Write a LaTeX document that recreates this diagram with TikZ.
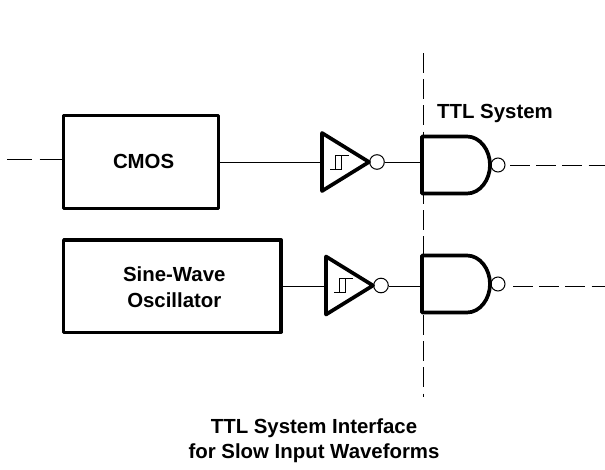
\documentclass[tikz,border=0pt]{standalone}
\usepackage{fontspec}
\setmainfont{Liberation Sans}
\usetikzlibrary{calc, positioning}
\tikzset{
    blockbox/.style={draw, line width=3.3pt, line join=round, inner sep=0pt},
    gateline/.style={line width=3.7pt, line join=round},
    wire/.style={line width=1pt},
    longdash/.style={line width=1pt, dash pattern=on 19.5pt off 6.7pt},
    bubble/.style={draw, circle, line width=1pt, minimum size=14.6pt, inner sep=0pt},
    caption/.style={font=\fontsize{20.4}{24}\selectfont\bfseries, inner sep=0pt, align=center}
}

\begin{document}
\begin{tikzpicture}[x=1pt, y=-1pt]
            \useasboundingbox (0,0) rectangle (605,469);

            % System boundary
            \coordinate (bordertop) at (423,53);
            \coordinate (borderbot) at (423,397);
            \draw[longdash] (bordertop) -- (borderbot);

            % Blocks
            \node[blockbox, minimum width=154.6pt, minimum height=92.6pt] (cmos) at (141,162) {};
            \node[caption] (cmoslabel) at (143.6,161.5) {CMOS};
            \node[blockbox, minimum width=217.3pt, minimum height=92.3pt] (osc) at (172.3,286) {};
            \node[caption] (oscname) at (174.3,274.5) {Sine-Wave};
            \node[caption] (osctype) at (174.3,300.5) {Oscillator};

            % Buffers and gates
            \foreach \n/\ix/\iy/\wy/\gy/\oy/\ox in {1/322/162/162/165/165/510, 2/326/285.5/286/284/286/513} {
                \draw[gateline] (\ix,\iy-29) -- (\ix,\iy+29) -- (\ix+47,\iy) -- cycle;
                \draw[wire] (\ix+8,\iy+7) -- (\ix+19,\iy+7) -- (\ix+19,\iy-7) -- (\ix+27,\iy-7);
                \draw[wire] (\ix+13,\iy+7) -- (\ix+13,\iy-7) -- (\ix+19,\iy-7);
                \node[bubble] (invout\n) at (\ix+55,\iy) {};
                \coordinate (invin\n) at (\ix,\wy);
                \coordinate (gatein\n) at (422,\wy);
                \draw[wire] (invout\n.east |- gatein\n) -- (gatein\n);

                \draw[gateline] (422,\gy-28.5) -- (467,\gy-28.5)
                    .. controls (480,\gy-28.5) and (490,\gy-15) .. (490,\gy)
                    .. controls (490,\gy+15) and (480,\gy+28.5) .. (467,\gy+28.5)
                    -- (422,\gy+28.5) -- cycle;
                \node[bubble, minimum size=14pt] (gateout\n) at (498,\gy) {};
                \coordinate (linestart\n) at (\ox,\oy);
                \coordinate (lineend\n) at (605,\oy);
                \draw[longdash] (linestart\n) -- (lineend\n);
            }

            % Wires
            \coordinate (leftend) at (7,159);
            \draw[wire, dash pattern=on 24.5pt off 8pt] (leftend) -- (leftend -| cmos.west);
            \draw[wire] (cmos.east) -- (invin1);
            \draw[wire] (osc.east) -- (invin2);

            % Text
            \node[caption] (ttl) at (495,113.5) {TTL System};
            \node[caption] (title) at (314,441) {TTL System Interface\\[1pt] for Slow Input Waveforms};
        \end{tikzpicture}
\end{document}
